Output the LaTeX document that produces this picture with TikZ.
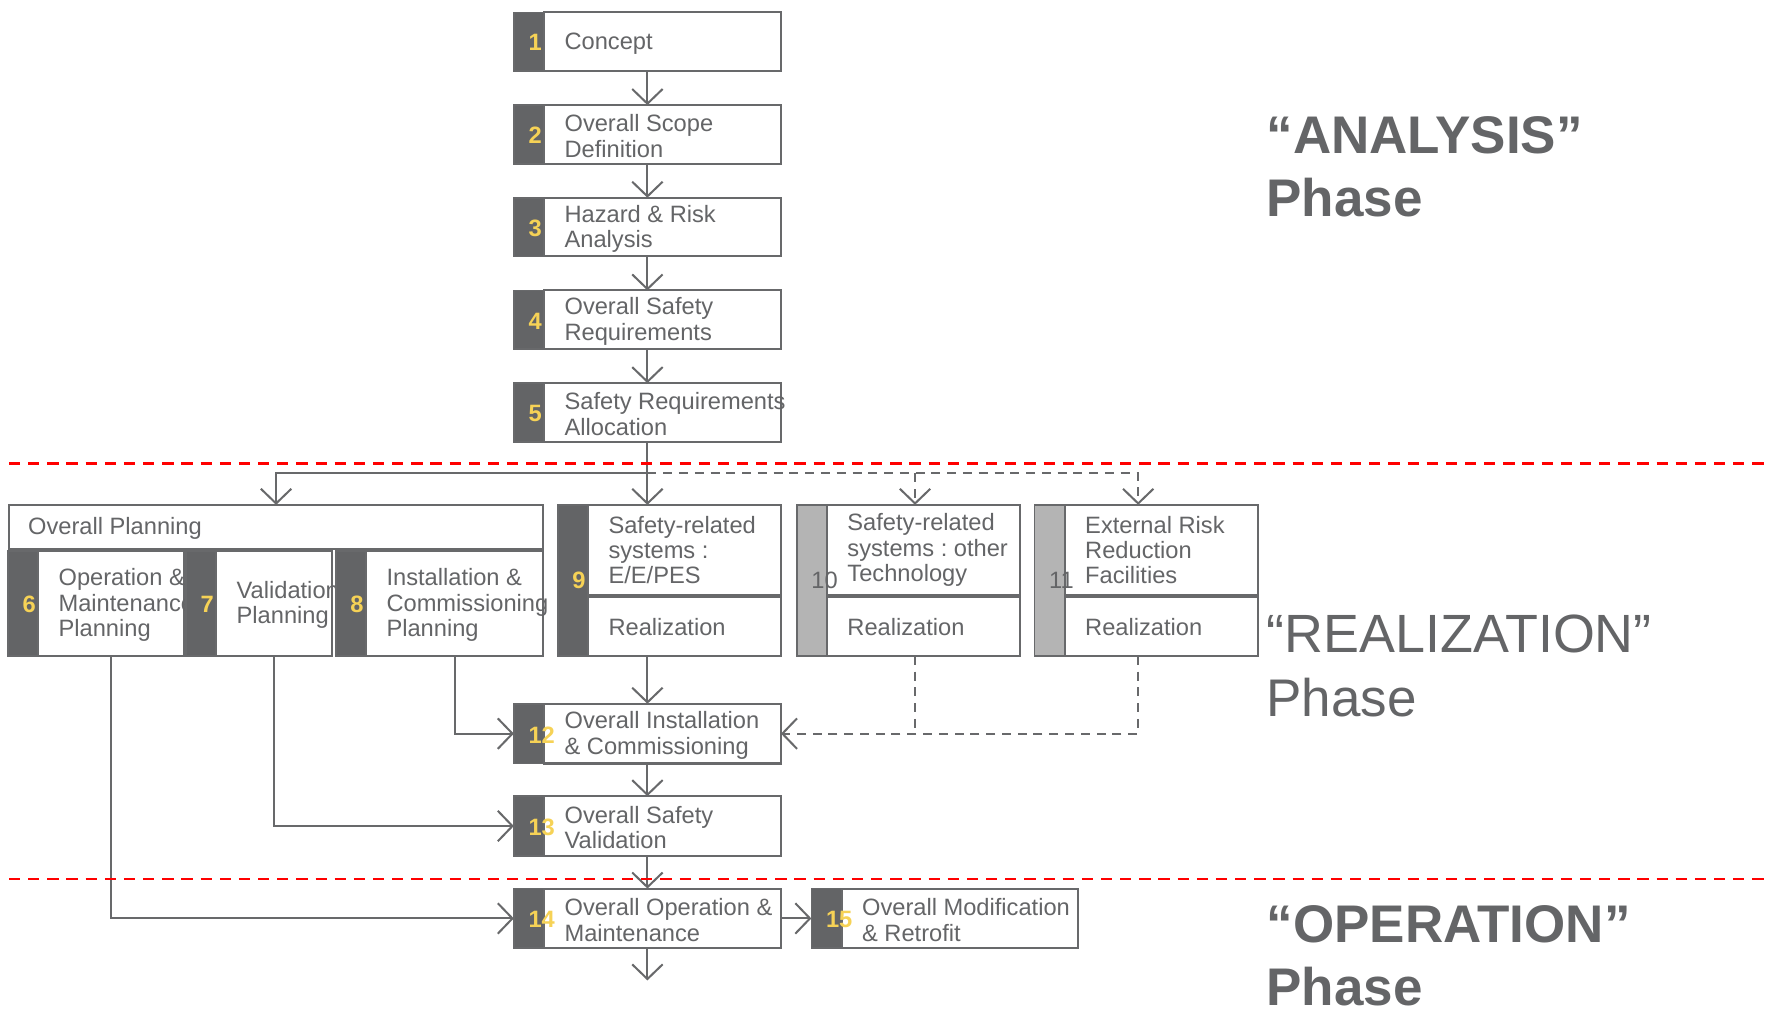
\documentclass[tikz,border=0pt]{standalone}
\usepackage{fontspec}
\setmainfont{Liberation Sans}
\usetikzlibrary{arrows.meta}
\frenchspacing
\definecolor{linegray}{RGB}{104,105,107}
\definecolor{txtgray}{RGB}{100,101,103}
\definecolor{blockgray}{RGB}{99,100,102}
\definecolor{lightblock}{RGB}{180,180,180}
\definecolor{numyellow}{RGB}{246,210,86}
\definecolor{redline}{RGB}{255,0,0}
\tikzset{
  blk/.style={draw=linegray, fill=blockgray, line width=1.5pt, inner sep=0pt, outer sep=0pt},
  lblk/.style={draw=linegray, fill=lightblock, line width=1.5pt, inner sep=0pt, outer sep=0pt},
  wbox/.style={draw=linegray, fill=white, line width=1.8pt, inner sep=0pt, outer sep=0pt},
  txt/.style={text=txtgray, inner sep=0pt, outer sep=0pt, align=left, font=\fontsize{21}{22.5}\selectfont},
  numtxt/.style={text=numyellow, inner sep=0pt, outer sep=0pt, font=\fontsize{21}{22.5}\selectfont\bfseries},
  numgray/.style={text=txtgray, inner sep=0pt, outer sep=0pt, font=\fontsize{21}{22.5}\selectfont},
  phase/.style={text=txtgray, inner sep=0pt, outer sep=0pt, anchor=base west, font=\fontsize{47}{56}\selectfont},
  line/.style={draw=linegray, line width=1.8pt},
  conn/.style={line, -{Straight Barb[length=13pt,width=27pt]}},
  dline/.style={line, dash pattern=on 8pt off 6pt},
  dconn/.style={dline, -{Straight Barb[length=13pt,width=27pt]}},
  reddash/.style={draw=redline, line width=2.5pt, dash pattern=on 10pt off 7pt},
}
% #1 name, #2 x, #3 y, #4 white width, #5 height, #6 number, #7 text
\newcommand\stepbox[7]{%
  \node[blk, minimum width=27pt, minimum height=#5pt, anchor=north west] (#1n) at (#2,#3) {};
  \node[wbox, minimum width=#4pt, minimum height=#5pt, anchor=north west] (#1) at (#1n.north east) {};
  \node[numtxt, anchor=west] (#1k) at ([xshift=13pt,yshift=-1pt]#1n.west) {#6};
  \node[txt, anchor=west] (#1t) at ([xshift=18pt,yshift=-1.5pt]#1.west) {#7};
}
% #1 name, #2 x, #3 block style, #4 number style, #5 number, #6 text
\newcommand\tallbox[6]{%
  \node[#3, minimum width=27pt, minimum height=134pt, anchor=north west] (#1n) at (#2,448) {};
  \node[wbox, minimum width=171pt, minimum height=80pt, anchor=north west] (#1) at (#1n.north east) {};
  \node[wbox, minimum width=171pt, minimum height=52pt, anchor=south west] (#1r) at (#1n.south east) {};
  \node[#4, anchor=west] (#1k) at ([xshift=13pt]#1n.west) {#5};
  \node[txt, anchor=west] (#1t) at ([xshift=18pt]#1.west) {#6};
  \node[txt, anchor=west] (#1rt) at ([xshift=18pt]#1r.west) {Realization};
}
\begin{document}
\begin{tikzpicture}[x=1pt, y=-1pt]
\useasboundingbox (0,0) rectangle (1568,902);
\fill[white] (0,0) rectangle (1568,902);

\coordinate (ax) at (574.5,0);
\coordinate (br) at (0,420);
\coordinate (k10) at (812,0);
\coordinate (k11) at (1010,0);
\coordinate (endpt) at (574.5,870);

% analysis phase boxes
\stepbox{b1}{456}{11}{210}{52}{1}{Concept}
\stepbox{b2}{456}{93.25}{210}{52}{2}{Overall Scope\\Definition}
\stepbox{b3}{456}{175.5}{210}{52}{3}{Hazard \& Risk\\Analysis}
\stepbox{b4}{456}{257.75}{210}{52}{4}{Overall Safety\\Requirements}
\stepbox{b5}{456}{340}{210}{52}{5}{Safety Requirements\\Allocation}

% overall planning
\node[wbox, minimum width=474pt, minimum height=39pt, anchor=north west] (plan) at (8,448) {};
\node[txt, anchor=west] (plant) at ([xshift=17pt,yshift=-1pt]plan.west) {Overall Planning};
\stepbox{p6}{7}{489}{129}{93}{6}{Operation \&\\Maintenance\\Planning}
\stepbox{p7}{165}{489}{103}{93}{7}{Validation\\Planning}
\stepbox{p8}{298}{489}{157}{93}{8}{Installation \&\\Commissioning\\Planning}

% realization boxes
\tallbox{b9}{495}{blk}{numtxt}{9}{Safety-related\\systems :\\E/E/PES}
\tallbox{b10}{707}{lblk}{numgray}{10}{Safety-related\\systems : other\\Technology}
\tallbox{b11}{918}{lblk}{numgray}{11}{External Risk\\Reduction\\Facilities}

\stepbox{b12}{456}{624.5}{210}{53}{12}{Overall Installation\\\& Commissioning}
\stepbox{b13}{456}{706.5}{210}{53}{13}{Overall Safety\\Validation}
\stepbox{b14}{456}{788.5}{210}{53}{14}{Overall Operation \&\\Maintenance}
\stepbox{b15}{720}{788.5}{210}{53}{15}{Overall Modification\\\& Retrofit}

% connectors
\draw[conn] (b1.south -| ax) -- (b2.north -| ax);
\draw[conn] (b2.south -| ax) -- (b3.north -| ax);
\draw[conn] (b3.south -| ax) -- (b4.north -| ax);
\draw[conn] (b4.south -| ax) -- (b5.north -| ax);
\draw[conn] (b5.south -| ax) -- (b9.north -| ax);
\draw[conn] (ax |- br) -| (plan.north);
\draw[dconn] (ax |- br) -| (k11 |- b11.north);
\draw[dconn] (k10 |- br) -- (k10 |- b10.north);

\draw[conn] (p8.south) |- (b12n.west);
\draw[conn] (p7.south) |- (b13n.west);
\draw[conn] (p6.south) |- (b14n.west);
\draw[conn] (b9r.south -| ax) -- (b12.north -| ax);
\draw[dconn] (k11 |- b11r.south) |- (b12.east);
\draw[dline] (k10 |- b10r.south) -- (k10 |- b12.east);
\draw[conn] (b12.south -| ax) -- (b13.north -| ax);
\draw[conn] (b13.south -| ax) -- (b14.north -| ax);
\draw[conn] (b14.south -| ax) -- (endpt);
\draw[conn] (b14.east) -- (b15n.west);

% phase separators
\draw[reddash] (8,411) -- (1568,411);
\draw[reddash] (8,780) -- (1568,780);

% phase labels
\node[phase, font=\fontsize{47}{56}\selectfont\bfseries] (ana1) at (1124,136) {“ANALYSIS”};
\node[phase, font=\fontsize{47}{56}\selectfont\bfseries] (ana2) at (1124,192.5) {Phase};
\node[phase, font=\fontsize{47.8}{56}\selectfont] (rea1) at (1124,579) {“REALIZATION”};
\node[phase] (rea2) at (1124,636) {Phase};
\node[phase, font=\fontsize{47}{56}\selectfont\bfseries] (ope1) at (1124,836) {“OPERATION”};
\node[phase, font=\fontsize{47}{56}\selectfont\bfseries] (ope2) at (1124,892) {Phase};
\end{tikzpicture}
\end{document}
